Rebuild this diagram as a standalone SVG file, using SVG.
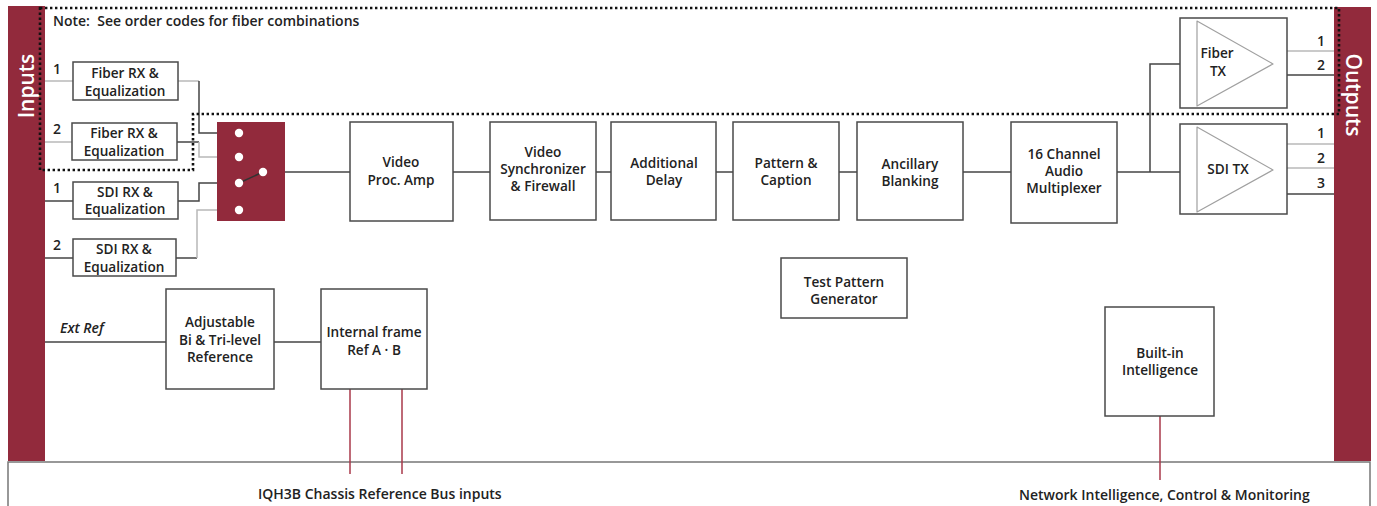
<svg xmlns="http://www.w3.org/2000/svg" width="1377" height="506" viewBox="0 0 1377 506">
<style>
.bg{fill:#ffffff}
.bar{fill:#922a3c}
.box{fill:#ffffff;stroke:#4a4a4a;stroke-width:1.5}
.wire{fill:none;stroke:#444;stroke-width:1.5}
.wl{fill:none;stroke:#b8b8b8;stroke-width:1.5}
.red{fill:none;stroke:#a8384a;stroke-width:1.5}
.dot{fill:none;stroke:#111;stroke-width:2.6;stroke-dasharray:2.4 2.6}
.tri{fill:none;stroke:#a0a0a0;stroke-width:1.2;stroke-linejoin:round}
.t{font-family:"Open Sans","Liberation Sans",sans-serif;font-size:13.6px;font-weight:600;fill:#222;text-anchor:middle}
.n{font-family:"Open Sans","Liberation Sans",sans-serif;font-size:14px;font-weight:600;fill:#222;text-anchor:middle}
.s{font-family:"Open Sans","Liberation Sans",sans-serif;font-size:14px;font-weight:600;fill:#222}
.v{font-family:"Open Sans","Liberation Sans",sans-serif;font-size:21px;font-weight:600;fill:#fff;text-anchor:middle}
.sw{fill:#fff}
</style>
<rect class="bg" x="0" y="0" width="1377" height="506"/>
<g id="frame">
<path d="M8 506 V462 H1370 V506" fill="none" stroke="#777" stroke-width="1.5"/>
</g>
<g id="inputs-bar">
<rect class="bar" x="8" y="6" width="37" height="455"/>
<text class="v" transform="translate(34,86) rotate(-90)">Inputs</text>
</g>
<g id="outputs-bar">
<rect class="bar" x="1334" y="7" width="37" height="454"/>
<text class="v" transform="translate(1346,95) rotate(90)">Outputs</text>
</g>
<g id="connectors">
<path class="wl" d="M45 81 H73"/>
<path class="wl" d="M45 142 H72"/>
<path class="wire" d="M45 201 H73"/>
<path class="wire" d="M45 258 H73"/>
<path class="wl" d="M178 81 H199"/>
<path class="wire" d="M199 81 V133 H239"/>
<path class="wire" d="M177 142 H199"/>
<path class="wl" d="M199 142 V157 H239"/>
<path class="wire" d="M178 201 H199 V183 H239"/>
<path class="wire" d="M176 258 H197"/>
<path class="wl" d="M197 258 V210 H220"/>
<path class="wire" d="M220 210 H239"/>
<path class="wire" d="M263 172 H350"/>
<path class="wire" d="M453 172 H490"/>
<path class="wire" d="M596 172 H611"/>
<path class="wire" d="M716 172 H733"/>
<path class="wire" d="M839 172 H857"/>
<path class="wire" d="M963 172 H1011"/>
<path class="wire" d="M1117 172 H1180"/>
<path class="wire" d="M1150 172 V64 H1180"/>
<path class="wl" d="M1287 51 H1334"/>
<path class="wire" d="M1287 75 H1334"/>
<path class="wl" d="M1287 144 H1334"/>
<path class="wl" d="M1287 168 H1334"/>
<path class="wire" d="M1287 194 H1334"/>
<path class="wire" d="M45 342 H166"/>
<path class="wire" d="M274 342 H321"/>
<path class="red" d="M350 389 V474"/>
<path class="red" d="M402 389 V474"/>
<path class="red" d="M1160 416 V480"/>
</g>
<g id="fiber-zone">
<path class="dot" d="M40 8 H1339 V114 H193 V170 H40 Z"/>
</g>
<g id="note">
<text class="s" x="53" y="26" xml:space="preserve">Note:  See order codes for fiber combinations</text>
</g>
<g id="in-labels">
<text class="n" x="57" y="74">1</text>
<text class="n" x="57" y="134">2</text>
<text class="n" x="57" y="193">1</text>
<text class="n" x="57" y="250">2</text>
</g>
<g id="fiber-rx-1">
<rect class="box" x="73" y="62" width="105" height="38"/>
<text class="t" x="125" y="78">Fiber RX &amp;</text>
<text class="t" x="125" y="96">Equalization</text>
</g>
<g id="fiber-rx-2">
<rect class="box" x="72" y="123" width="105" height="37"/>
<text class="t" x="124" y="138">Fiber RX &amp;</text>
<text class="t" x="124" y="156">Equalization</text>
</g>
<g id="sdi-rx-1">
<rect class="box" x="73" y="182" width="105" height="37"/>
<text class="t" x="125" y="197">SDI RX &amp;</text>
<text class="t" x="125" y="214">Equalization</text>
</g>
<g id="sdi-rx-2">
<rect class="box" x="73" y="239" width="103" height="37"/>
<text class="t" x="124" y="254">SDI RX &amp;</text>
<text class="t" x="124" y="272">Equalization</text>
</g>
<g id="input-switch">
<rect class="bar" x="217" y="122" width="68" height="99"/>
<path d="M239 183 L263 172" stroke="#333" stroke-width="1.5"/>
<circle class="sw" cx="239" cy="133" r="4.2"/>
<circle class="sw" cx="239" cy="157" r="4.2"/>
<circle class="sw" cx="239" cy="183" r="4.2"/>
<circle class="sw" cx="239" cy="210" r="4.2"/>
<circle class="sw" cx="263" cy="172" r="4.2"/>
</g>
<g id="video-proc-amp">
<rect class="box" x="350" y="122" width="103" height="99"/>
<text class="t" x="401" y="167">Video</text>
<text class="t" x="401" y="185">Proc. Amp</text>
</g>
<g id="video-synchronizer">
<rect class="box" x="490" y="122" width="106" height="98"/>
<text class="t" x="543" y="157">Video</text>
<text class="t" x="543" y="174">Synchronizer</text>
<text class="t" x="543" y="191">&amp; Firewall</text>
</g>
<g id="additional-delay">
<rect class="box" x="611" y="122" width="105" height="98"/>
<text class="t" x="664" y="168">Additional</text>
<text class="t" x="664" y="185">Delay</text>
</g>
<g id="pattern-caption">
<rect class="box" x="733" y="122" width="106" height="98"/>
<text class="t" x="786" y="168">Pattern &amp;</text>
<text class="t" x="786" y="185">Caption</text>
</g>
<g id="ancillary-blanking">
<rect class="box" x="857" y="122" width="106" height="98"/>
<text class="t" x="910" y="169">Ancillary</text>
<text class="t" x="910" y="186">Blanking</text>
</g>
<g id="audio-multiplexer">
<rect class="box" x="1011" y="122" width="106" height="101"/>
<text class="t" x="1064" y="159">16 Channel</text>
<text class="t" x="1064" y="176">Audio</text>
<text class="t" x="1064" y="193">Multiplexer</text>
</g>
<g id="fiber-tx">
<rect class="box" x="1180" y="18" width="107" height="90"/>
<path class="tri" d="M1197 21 L1273 64 L1197 106 Z"/>
<text class="t" x="1217" y="58">Fiber</text>
<text class="t" x="1218" y="76">TX</text>
</g>
<g id="sdi-tx">
<rect class="box" x="1180" y="124" width="107" height="90"/>
<path class="tri" d="M1197 127 L1273 170 L1197 212 Z"/>
<text class="t" x="1228" y="174">SDI TX</text>
</g>
<g id="out-labels">
<text class="n" x="1321" y="46">1</text>
<text class="n" x="1321" y="70">2</text>
<text class="n" x="1321" y="138">1</text>
<text class="n" x="1321" y="163">2</text>
<text class="n" x="1321" y="188">3</text>
</g>
<g id="test-pattern-generator">
<rect class="box" x="781" y="258" width="126" height="60"/>
<text class="t" x="844" y="287">Test Pattern</text>
<text class="t" x="844" y="304">Generator</text>
</g>
<g id="ext-ref">
<text class="s" x="60" y="333" font-style="italic">Ext Ref</text>
</g>
<g id="adjustable-reference">
<rect class="box" x="166" y="289" width="108" height="100"/>
<text class="t" x="220" y="327">Adjustable</text>
<text class="t" x="220" y="344.5">Bi &amp; Tri-level</text>
<text class="t" x="220" y="362">Reference</text>
</g>
<g id="internal-frame-ref">
<rect class="box" x="321" y="289" width="106" height="100"/>
<text class="t" x="374" y="337">Internal frame</text>
<text class="t" x="374" y="355">Ref A · B</text>
</g>
<g id="built-in-intelligence">
<rect class="box" x="1105" y="307" width="109" height="109"/>
<text class="t" x="1160" y="358">Built-in</text>
<text class="t" x="1160" y="375">Intelligence</text>
</g>
<g id="bottom-labels">
<text class="s" x="258" y="499" font-weight="500">IQH3B Chassis Reference Bus inputs</text>
<text class="s" x="1019" y="500" font-weight="500">Network Intelligence, Control &amp; Monitoring</text>
</g>
</svg>
